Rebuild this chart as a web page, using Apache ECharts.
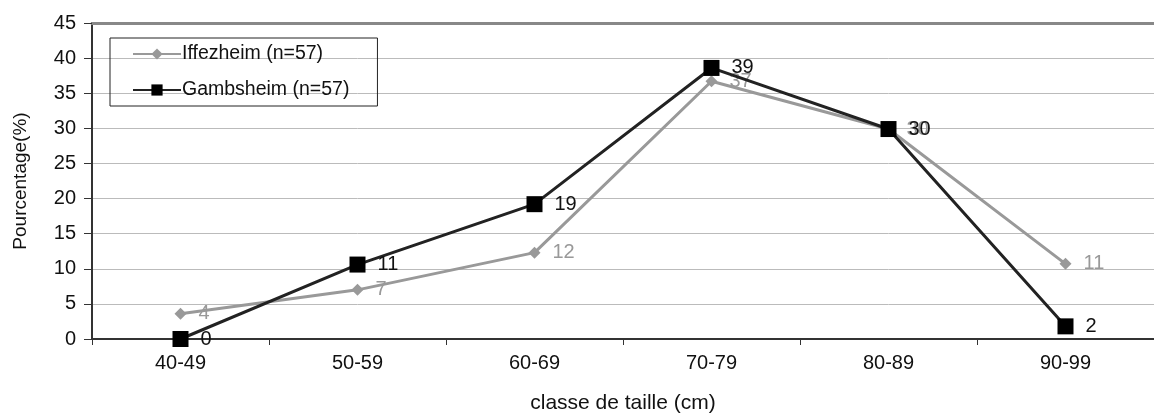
<!DOCTYPE html>
<html>
<head>
<meta charset="utf-8">
<script src="https://cdn.jsdelivr.net/npm/echarts@6/dist/echarts.min.js"></script>
<style>
html,body{margin:0;padding:0;background:#fff;}
#c{width:1154px;height:419px;}
</style>
</head>
<body>
<div id="c"></div>
<script>
const categories = ['40-49','50-59','60-69','70-79','80-89','90-99'];
const iffezheim = [3.6, 7.0, 12.3, 36.7, 29.9, 10.7];
const gambsheim = [0, 10.6, 19.2, 38.6, 29.9, 1.8];
const seriesNames = ['Iffezheim (n=57)', 'Gambsheim (n=57)'];
const yTicks = [0,5,10,15,20,25,30,35,40,45];

const font = 'Liberation Sans, Arial, sans-serif';
const chart = echarts.init(document.getElementById('c'), null, {renderer:'canvas'});
chart.setOption({
  animation:false,
  backgroundColor:'#fff',
  textStyle:{fontFamily:font},
  grid:{left:92, top:23, width:1071, height:321},
  legend:{
    orient:'vertical', left:110, top:38,
    padding:[6,28,6,22], itemGap:16,
    itemWidth:48, itemHeight:14,
    borderColor:'#222', borderWidth:1,
    textStyle:{fontFamily:font, fontSize:19.5, color:'#111', padding:[0,0,0,-4]},
    data: seriesNames
  },
  xAxis:[{
    type:'category', data:categories, boundaryGap:true,
    name:'classe de taille (cm)', nameLocation:'middle', nameGap:54,
    nameTextStyle:{fontFamily:font, fontSize:21, color:'#111'},
    axisLine:{lineStyle:{color:'#333', width:2}},
    axisTick:{show:true, length:6, lineStyle:{color:'#333', width:1}},
    axisLabel:{fontFamily:font, fontSize:20, color:'#111', margin:14}
  },{
    type:'category', data:categories, position:'top',
    axisLine:{show:true, lineStyle:{color:'#888', width:3}},
    axisTick:{show:false}, axisLabel:{show:false}
  }],
  yAxis:{
    type:'value', min:0, max:45, interval:5,
    name:'Pourcentage(%)', nameLocation:'middle', nameGap:62,
    nameTextStyle:{fontFamily:font, fontSize:19, color:'#111'},
    axisLine:{show:true, lineStyle:{color:'#333', width:2}},
    axisTick:{show:true, length:8, lineStyle:{color:'#333'}},
    axisLabel:{fontFamily:font, fontSize:20, color:'#111', margin:16,
      formatter: v => yTicks.includes(v) ? String(v) : ''},
    splitLine:{show:true, lineStyle:{color:'#bbb', width:1}}
  },
  series:[{
    name:seriesNames[0], type:'line', data:iffezheim,
    symbol:'diamond', symbolSize:12,
    lineStyle:{color:'#999', width:3},
    itemStyle:{color:'#999'},
    label:{show:true, position:'right', distance:12, fontFamily:font, fontSize:20, color:'#999',
      formatter:p=>Math.round(p.value)},
    z:2
  },{
    name:seriesNames[1], type:'line', data:gambsheim,
    symbol:'rect', symbolSize:16,
    lineStyle:{color:'#222', width:3},
    itemStyle:{color:'#000'},
    label:{show:true, position:'right', distance:12, fontFamily:font, fontSize:20, color:'#111',
      formatter:p=>Math.round(p.value)},
    z:3
  }]
});
</script>
</body>
</html>
